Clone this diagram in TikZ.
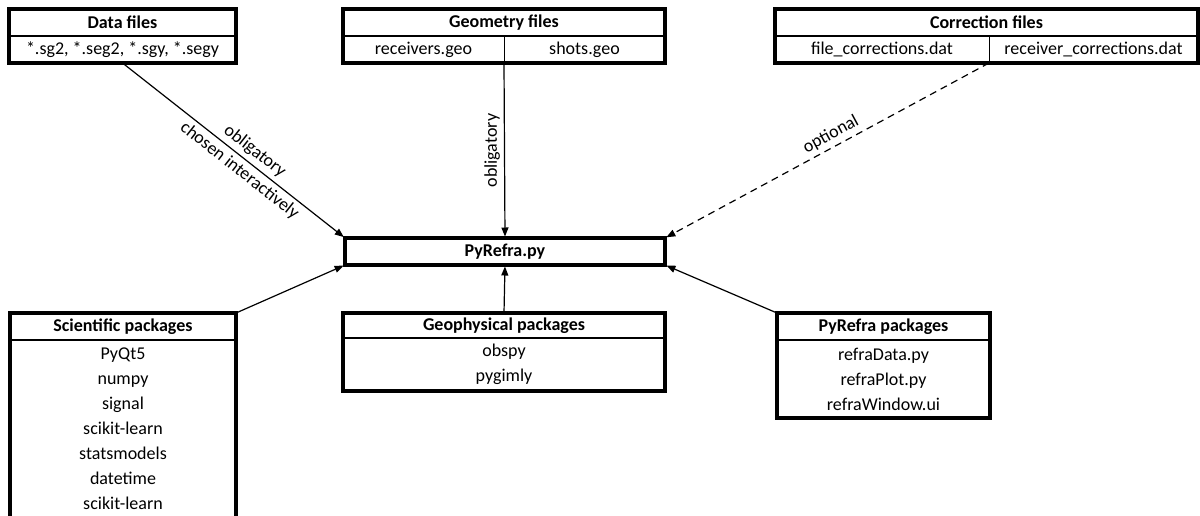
\documentclass[tikz,border=0pt]{standalone}
\usepackage{fontspec}
\setmainfont{Carlito}
\usetikzlibrary{arrows.meta,positioning}

\newcommand{\boxfont}{\fontsize{18}{25}\selectfont}

\tikzset{
  head/.style={draw, line width=2pt, inner sep=0pt, outer sep=0pt, minimum height=27pt, font=\boxfont\bfseries},
  cell/.style={draw, line width=1pt, inner sep=0pt, outer sep=0pt, minimum height=27pt, align=center, font=\boxfont},
  frame/.style={line width=3.2pt},
  link/.style={-{Triangle[length=9pt,width=7pt]}, line width=1.2pt, shorten >=1.5pt},
  lbl/.style={font=\boxfont, inner sep=4pt},
}

\begin{document}
\begin{tikzpicture}[x=1pt, y=-1pt]
  \useasboundingbox (0,0) rectangle (1200,515);

  % Input files (top row)
  \node[head, minimum width=227pt] (dhead) at (122.5,22.5) {Data files};
  \node[cell, minimum width=227pt, below=0pt of dhead] (dbody) {*.sg2, *.seg2, *.sgy, *.segy};

  \node[head, minimum width=322pt] (ghead) at (504,22.5) {Geometry files};
  \node[cell, minimum width=161pt, below right=0pt and 0pt of ghead.south west] (gleft) {receivers.geo};
  \node[cell, minimum width=161pt, right=0pt of gleft] (gright) {shots.geo};

  \node[head, minimum width=423pt] (chead) at (986.5,22.5) {Correction files};
  \node[cell, minimum width=214pt, below right=0pt and 0pt of chead.south west] (cleft) {file\_corrections.dat};
  \node[cell, minimum width=209pt, right=0pt of cleft] (cright) {receiver\_corrections.dat};

  % Main program
  \node[head, line width=3.2pt, minimum width=320pt] (main) at (505,251.5) {PyRefra.py};

  % Packages (bottom row)
  \node[head, minimum width=226pt] (shead) at (123,326.5) {Scientific packages};
  \node[cell, minimum width=226pt, minimum height=178pt, below=0pt of shead] (sbody)
    {PyQt5\\numpy\\signal\\scikit-learn\\statsmodels\\datetime\\scikit-learn};

  \node[head, minimum width=322pt, minimum height=25pt] (phhead) at (504,325.5) {Geophysical packages};
  \node[cell, minimum width=322pt, minimum height=53pt, below=0pt of phhead] (phbody) {obspy\\pygimly};

  \node[head, minimum width=213pt] (prhead) at (883.5,326.5) {PyRefra packages};
  \node[cell, minimum width=213pt, minimum height=78pt, below=0pt of prhead] (prbody)
    {refraData.py\\refraPlot.py\\refraWindow.ui};

  % Outer frames
  \draw[frame] (dhead.north west) rectangle (dbody.south east);
  \draw[frame] (ghead.north west) rectangle (gright.south east);
  \draw[frame] (chead.north west) rectangle (cright.south east);
  \draw[frame] (shead.north west) rectangle (sbody.south east);
  \draw[frame] (phhead.north west) rectangle (phbody.south east);
  \draw[frame] (prhead.north west) rectangle (prbody.south east);

  % Arrows
  \draw[link] (dbody.south) -- node[lbl, pos=0.56, sloped, above] {obligatory}
    node[lbl, pos=0.56, sloped, below] {chosen interactively} (main.north west);
  \draw[link] (gleft.south east) -- node[lbl, midway, rotate=90, anchor=south] {obligatory} (main.north);
  \draw[link, dashed, dash pattern=on 7pt off 5pt] (cleft.south east) -- node[lbl, pos=0.47, sloped, above] {optional} (main.north east);
  \draw[link] (shead.north east) -- (main.south west);
  \draw[link] (phhead.north) -- (main.south);
  \draw[link] (prhead.north west) -- (main.south east);
\end{tikzpicture}
\end{document}
